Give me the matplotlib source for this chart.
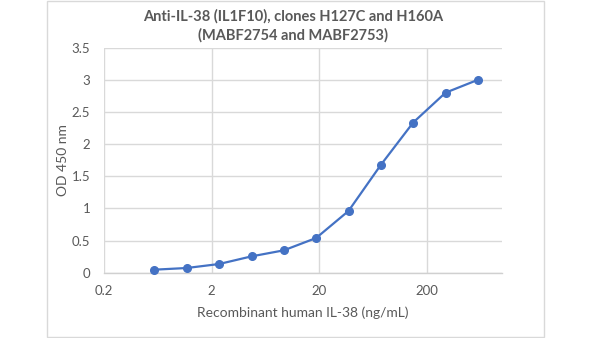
import matplotlib
matplotlib.use("Agg")
import matplotlib.pyplot as plt
from matplotlib.patches import Rectangle
from matplotlib.ticker import FixedLocator, NullLocator

# Data
concentration = [0.586, 1.17, 2.34, 4.69, 9.38, 18.75, 37.5, 75, 150, 300, 600]
od450 = [0.047, 0.073, 0.135, 0.254, 0.348, 0.54, 0.96, 1.677, 2.336, 2.80, 3.0]

x_ticks = [0.2, 2, 20, 200]
x_tick_labels = ["0.2", "2", "20", "200"]
y_ticks = [0, 0.5, 1, 1.5, 2, 2.5, 3, 3.5]
y_tick_labels = ["0", "0.5", "1", "1.5", "2", "2.5", "3", "3.5"]

title = "Anti-IL-38 (IL1F10), clones H127C and H160A\n(MABF2754 and MABF2753)"
x_label = "Recombinant human IL-38 (ng/mL)"
y_label = "OD 450 nm"

plt.rcParams["font.family"] = ["Lato", "DejaVu Sans"]

W, H = 600, 338
fig = plt.figure(figsize=(6, 3.38), dpi=100)
fig.patch.set_facecolor("white")

# chart area border
fig.patches.append(Rectangle((47 / W, 1 / H), 497 / W, 336 / H,
                             transform=fig.transFigure, fill=False,
                             edgecolor="#D9D9D9", linewidth=1.0))

ax_left, ax_right, ax_top, ax_bottom = 104.3, 501.7, 47.7, 272.7
ax = fig.add_axes([ax_left / W, 1 - ax_bottom / H,
                   (ax_right - ax_left) / W, (ax_bottom - ax_top) / H])
ax.set_xscale("log")
ax.set_xlim(0.2, 1000)
ax.set_ylim(0, 3.5)

ax.xaxis.set_major_locator(FixedLocator(x_ticks))
ax.xaxis.set_minor_locator(NullLocator())
ax.set_xticklabels(x_tick_labels)
ax.set_yticks(y_ticks)
ax.set_yticklabels(y_tick_labels)

ax.grid(True, color="#D9D9D9", linewidth=1.0)
ax.set_axisbelow(True)
for side in ["top", "right", "left"]:
    ax.spines[side].set_visible(False)
ax.spines["bottom"].set_color("#D0D0D0")
ax.spines["bottom"].set_linewidth(1.0)

ax.tick_params(axis="both", length=0, labelsize=9.5, labelcolor="#595959")
ax.tick_params(axis="x", pad=9)
ax.tick_params(axis="y", pad=10)

ax.plot(concentration, od450, color="#4472C4", linewidth=1.6,
        marker="o", markersize=5.5, markerfacecolor="#4472C4",
        markeredgecolor="#4472C4", zorder=3, clip_on=False)

ax.set_xlabel(x_label, fontsize=10, color="#595959")
ax.set_ylabel(y_label, fontsize=10, color="#595959")
ax.xaxis.label.set_va("center")
ax.yaxis.label.set_va("center")
plot_w, plot_h = ax_right - ax_left, ax_bottom - ax_top
ax.xaxis.set_label_coords((303 - ax_left) / plot_w, (ax_bottom - 312.7) / plot_h)
ax.yaxis.set_label_coords((62.7 - ax_left) / plot_w, (ax_bottom - 160) / plot_h)

fig.text(293 / W, 1 - 26 / H, title, ha="center", va="center",
         fontsize=10.5, fontweight="bold", color="#595959", linespacing=1.35)

fig.savefig("out.png", dpi=100)
